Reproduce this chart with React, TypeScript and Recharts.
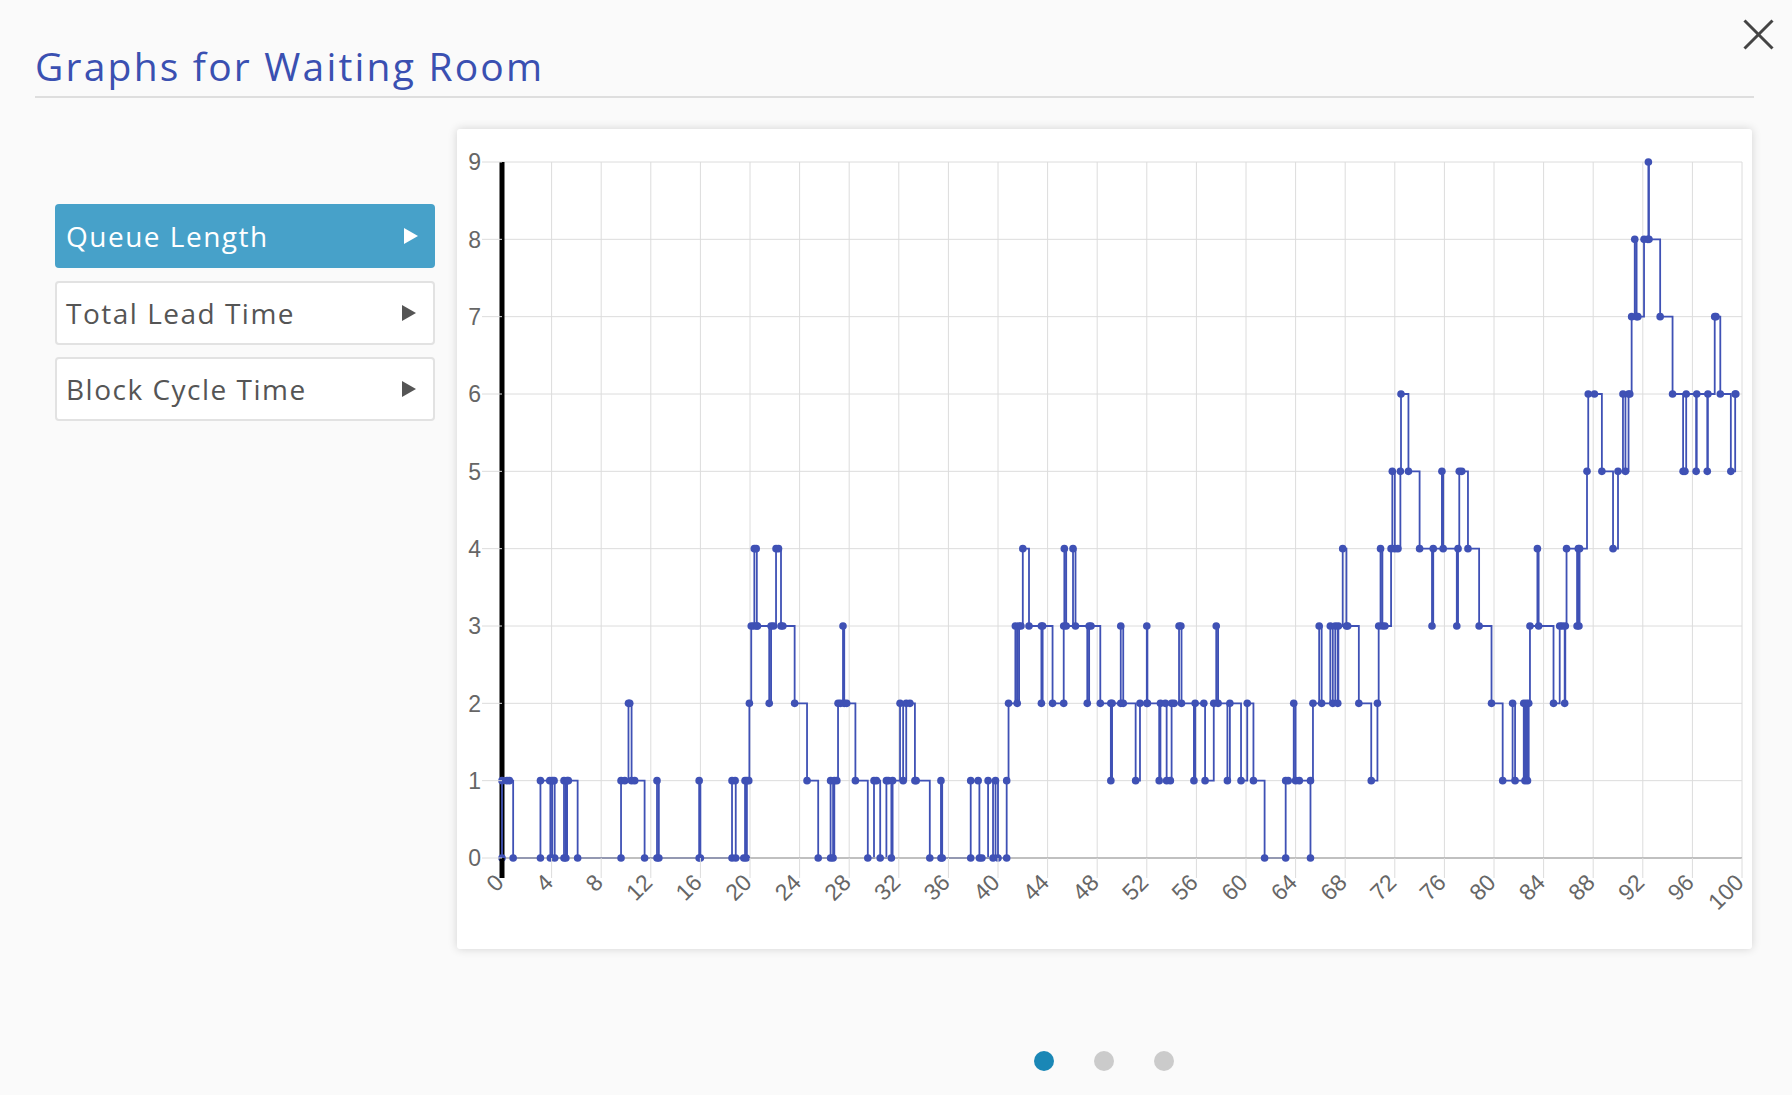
import { CartesianGrid, Line, LineChart, ReferenceLine, XAxis, YAxis } from 'recharts';

// tiempos de cada evento (eje x) y largo de la cola tras el evento
const times = [
  0, 0, 0.4, 0.6, 0.9,
  3.1, 3.1, 3.85, 3.9, 4.05, 4.2, 4.25,
  5.0, 5.0, 5.15, 5.25, 5.35, 6.1,
  9.6, 9.6, 9.9, 10.2, 10.3, 10.45, 10.7, 11.5,
  12.5, 12.5, 12.65,
  15.9, 15.9, 16.0,
  18.55, 18.55, 18.8, 18.85, 19.5, 19.6, 19.7, 19.75, 19.9, 19.95, 20.1, 20.3, 20.35, 20.5, 20.55, 20.6,
  21.55, 21.7, 21.9, 22.1, 22.3, 22.5, 22.65, 23.6, 24.6, 25.5,
  26.5, 26.5, 26.7, 26.8, 27.0, 27.1, 27.3, 27.5, 27.6, 27.8, 28.5, 29.5,
  30.0, 30.2, 30.5, 31.0, 31.15, 31.4, 31.5, 32.1, 32.35, 32.6, 32.9, 33.3, 33.4, 34.5, 35.4, 35.4, 35.5,
  37.8, 37.8, 38.4, 38.5, 38.7, 39.2, 39.6, 39.8, 40.0, 40.7, 40.7, 40.85, 41.4, 41.55, 41.7, 41.85, 42.0, 42.5,
  43.5, 43.5, 43.6, 44.4, 45.3, 45.3, 45.35, 45.5, 46.05, 46.25, 47.2, 47.35, 47.5, 48.25, 49.1, 49.1, 49.2, 49.9, 49.9, 50.1,
  51.1, 51.45, 52.0, 52.0, 52.05, 53.0, 53.1, 53.5, 53.6, 53.9, 54.0, 54.2, 54.6, 54.75, 54.8,
  55.8, 55.9, 56.6, 56.7, 57.4, 57.6, 57.75, 58.5, 58.7, 59.6, 60.1, 60.6, 61.5,
  63.2, 63.2, 63.4, 63.85, 64.0, 64.3, 65.2, 65.2, 65.4, 65.9, 66.1, 66.8, 67.0, 67.2, 67.4, 67.45, 67.8, 68.1, 68.2,
  69.1, 70.1, 70.6, 70.7, 70.85, 71.0, 71.2, 71.7, 71.8, 72.0, 72.25, 72.45, 72.5, 73.1, 74.0,
  75.0, 75.1, 75.8, 75.9, 77.0, 77.1, 77.2, 77.4, 77.9, 78.8, 79.8, 80.7,
  81.5, 81.7, 82.4, 82.5, 82.6, 82.7, 82.8, 82.9, 83.5, 83.6,
  84.8, 85.3, 85.5, 85.7, 85.75, 85.85, 86.7, 86.8, 86.85, 86.9, 87.5, 87.6, 88.1, 88.7, 89.6,
  90.0, 90.4, 90.6, 90.85, 90.95, 91.1, 91.35, 91.5, 91.6, 92.1, 92.4, 92.45, 92.5, 93.4, 94.4,
  95.25, 95.4, 95.5, 96.3, 96.35, 97.2, 97.25, 97.8, 97.9, 98.25, 99.1, 99.45, 99.5,
];

const queue = [
  0, 1, 1, 1, 0,
  0, 1, 1, 0, 1, 1, 0,
  0, 1, 0, 1, 1, 0,
  0, 1, 1, 2, 2, 1, 1, 0,
  0, 1, 0,
  0, 1, 0,
  0, 1, 1, 0, 0, 1, 0, 1, 1, 2, 3, 3, 4, 4, 3, 3,
  2, 3, 3, 4, 4, 3, 3, 2, 1, 0,
  0, 1, 0, 1, 1, 2, 2, 3, 2, 2, 1, 0,
  1, 1, 0, 1, 1, 0, 1, 2, 1, 2, 2, 1, 1, 0, 0, 1, 0,
  0, 1, 1, 0, 0, 1, 0, 1, 0, 0, 1, 2, 3, 2, 3, 3, 4, 3,
  3, 2, 3, 2, 2, 3, 4, 3, 4, 3, 2, 3, 3, 2, 2, 1, 2, 2, 3, 2,
  1, 2, 2, 3, 2, 1, 2, 2, 1, 1, 2, 2, 3, 3, 2,
  1, 2, 2, 1, 2, 3, 2, 1, 2, 1, 2, 1, 0,
  0, 1, 1, 2, 1, 1, 0, 1, 2, 3, 2, 3, 2, 3, 2, 3, 4, 3, 3,
  2, 1, 2, 3, 4, 3, 3, 4, 5, 4, 4, 5, 6, 5, 4,
  3, 4, 5, 4, 3, 4, 5, 5, 4, 3, 2, 1,
  2, 1, 2, 1, 2, 1, 2, 3, 4, 3,
  2, 3, 3, 2, 3, 4, 3, 4, 3, 4, 5, 6, 6, 5, 4,
  5, 6, 5, 6, 6, 7, 8, 7, 7, 8, 8, 9, 8, 7, 6,
  5, 5, 6, 5, 6, 5, 6, 7, 7, 6, 5, 6, 6,
];

const xTicks = [0, 4, 8, 12, 16, 20, 24, 28, 32, 36, 40, 44, 48, 52, 56, 60, 64, 68, 72, 76, 80, 84, 88, 92, 96, 100];
const yTicks = [0, 1, 2, 3, 4, 5, 6, 7, 8, 9];

const opciones = ['Queue Length', 'Total Lead Time', 'Block Cycle Time'];
const paginas = [true, false, false];

const AZUL = '#3f51b5';
const GRID = '#dcdcdc';
const FUENTE_EJES = '"Liberation Sans", Arial, sans-serif';

const datos = times.map((t, i) => ({ t, q: queue[i] }));

function TickX(props: any) {
  const { x, y, payload } = props;
  const cero = payload.value === 0;
  return (
    <g>
      <line
        x1={x}
        x2={x}
        y1={y}
        y2={y + 20}
        stroke={cero ? '#000' : GRID}
        strokeWidth={cero ? 5 : 1}
      />
      <text
        x={x + 3}
        y={y + 26}
        transform={`rotate(-45 ${x + 3} ${y + 26})`}
        textAnchor="end"
        fill="#666"
        fontSize={23}
        fontFamily={FUENTE_EJES}
      >
        {payload.value}
      </text>
    </g>
  );
}

function TickY(props: any) {
  const { x, y, payload } = props;
  return (
    <g>
      <line x1={x - 20} x2={x} y1={y} y2={y} stroke={GRID} strokeWidth={1} />
      <text
        x={x - 21}
        y={y}
        dy="0.36em"
        textAnchor="end"
        fill="#666"
        fontSize={23}
        fontFamily={FUENTE_EJES}
      >
        {payload.value}
      </text>
    </g>
  );
}

function Triangulo({ color }: { color: string }) {
  return (
    <svg width={16} height={18} style={{ position: 'absolute', right: 16, top: '50%', marginTop: -9 }}>
      <polygon points="1,1 15,9 1,17" fill={color} />
    </svg>
  );
}

function Grafico() {
  return (
    <LineChart
      width={1295}
      height={820}
      data={datos}
      margin={{ top: 33, right: 10, bottom: 0, left: 0 }}
    >
      <CartesianGrid stroke={GRID} />
      <XAxis
        type="number"
        dataKey="t"
        domain={[0, 100]}
        ticks={xTicks}
        interval={0}
        height={91}
        tickSize={0}
        tickMargin={0}
        tickLine={false}
        axisLine={{ stroke: '#b0b0b0', strokeWidth: 1.5 }}
        tick={TickX}
      />
      <YAxis
        type="number"
        domain={[0, 9]}
        ticks={yTicks}
        interval={0}
        width={45}
        tickSize={0}
        tickMargin={0}
        tickLine={false}
        axisLine={false}
        tick={TickY}
      />
      <ReferenceLine x={0} stroke="#000" strokeWidth={5} />
      <Line
        type="stepAfter"
        dataKey="q"
        stroke={AZUL}
        strokeWidth={1.8}
        dot={{ r: 3.8, fill: AZUL, stroke: AZUL, strokeWidth: 0 }}
        isAnimationActive={false}
      />
    </LineChart>
  );
}

export default function App() {
  return (
    <div
      style={{
        position: 'absolute',
        left: 0,
        top: 0,
        width: 1792,
        height: 1095,
        background: '#fafafa',
        overflow: 'hidden',
        fontFamily: '"Open Sans", sans-serif',
      }}
    >
      <div
        style={{
          position: 'absolute',
          left: 35,
          top: 44,
          fontSize: 39,
          lineHeight: '44px',
          color: '#3a50b1',
          letterSpacing: 2.2,
          whiteSpace: 'nowrap',
        }}
      >
        Graphs for Waiting Room
      </div>
      <div style={{ position: 'absolute', left: 35, top: 96, width: 1719, height: 2, background: '#dedede' }} />

      <svg width={31} height={31} style={{ position: 'absolute', left: 1743, top: 19 }}>
        <line x1={1.5} y1={1.5} x2={29.5} y2={29.5} stroke="#444" strokeWidth={3} />
        <line x1={29.5} y1={1.5} x2={1.5} y2={29.5} stroke="#444" strokeWidth={3} />
      </svg>

      {opciones.map((op, i) => {
        const activa = i === 0;
        return (
          <div
            key={op}
            style={{
              position: 'absolute',
              left: 55,
              top: [204, 281, 357][i],
              width: 380,
              height: 64,
              boxSizing: 'border-box',
              borderRadius: 4,
              background: activa ? '#47a1c9' : '#fff',
              border: activa ? 'none' : '2px solid #e2e2e2',
              color: activa ? '#fff' : '#555',
              display: 'flex',
              alignItems: 'center',
              paddingLeft: activa ? 11 : 9,
              fontSize: 28,
              letterSpacing: 1.5,
              whiteSpace: 'nowrap',
            }}
          >
            {op}
            <Triangulo color={activa ? '#fff' : '#555'} />
          </div>
        );
      })}

      <div
        style={{
          position: 'absolute',
          left: 457,
          top: 129,
          width: 1295,
          height: 820,
          background: '#fff',
          borderRadius: 3,
          boxShadow: '0 0 10px rgba(0,0,0,0.16)',
        }}
      >
        <Grafico />
      </div>

      {paginas.map((activa, i) => (
        <div
          key={i}
          style={{
            position: 'absolute',
            left: 1034 + i * 60,
            top: 1051,
            width: 20,
            height: 20,
            borderRadius: 10,
            background: activa ? '#1a87b6' : '#cbcbcb',
          }}
        />
      ))}
    </div>
  );
}
